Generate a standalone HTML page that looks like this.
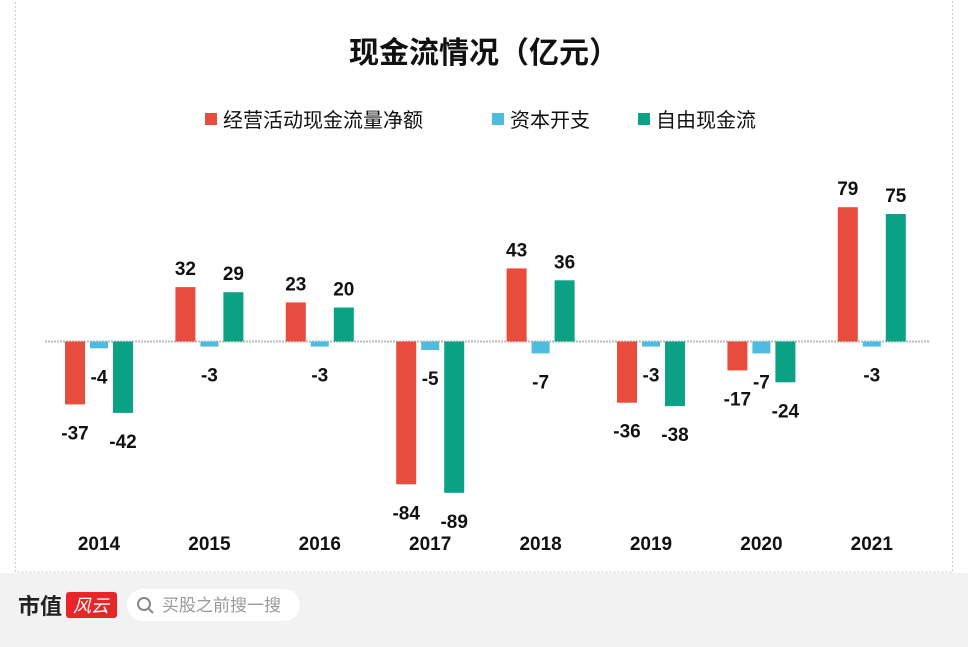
<!DOCTYPE html>
<html><head><meta charset="utf-8"><style>
body{margin:0;width:968px;height:642px;background:#f2f2f2;overflow:hidden;font-family:"Liberation Sans","Noto Sans CJK SC",sans-serif}
#wrap{position:absolute;left:0;top:0;width:968px;height:642px}
</style></head><body>
<div id="wrap">
<svg id="svg" width="968" height="642" xmlns="http://www.w3.org/2000/svg">
<rect x="0" y="0" width="968" height="573" fill="#fff"/>
<rect x="15.5" y="-2" width="937" height="574" fill="none" stroke="#ccc" stroke-dasharray="2,2"/>
<text x="484" y="63" text-anchor="middle" font-size="30" font-weight="bold" fill="#111">现金流情况（亿元）</text>
<g font-size="20" fill="#111">
<rect x="205" y="113" width="12" height="12" fill="#E84C3D"/>
<text x="223" y="127">经营活动现金流量净额</text>
<rect x="492" y="113" width="12" height="12" fill="#4DBCE0"/>
<text x="510" y="127">资本开支</text>
<rect x="638" y="113" width="12" height="12" fill="#0AA185"/>
<text x="656" y="127">自由现金流</text>
</g>
<line x1="45" y1="341.5" x2="930" y2="341.5" stroke="#bbb" stroke-width="2" stroke-dasharray="2,1"/>
<g id="bars"></g>
<g>
<text x="18" y="614" font-size="22" font-weight="bold" fill="#222">市值</text>
<rect x="66" y="592" width="51" height="26" rx="3" fill="#E8262A"/>
<text x="91" y="612" text-anchor="middle" font-size="18" font-style="italic" fill="#fff">风云</text>
<rect x="127" y="589" width="173" height="32" rx="16" fill="#fff"/>
<circle cx="144" cy="604" r="6" fill="none" stroke="#888" stroke-width="2"/>
<line x1="148" y1="608" x2="153" y2="613" stroke="#888" stroke-width="2"/>
<text x="162" y="611" font-size="17" fill="#999">买股之前搜一搜</text>
</g>
</svg>
</div>
<script>
const years=["2014","2015","2016","2017","2018","2019","2020","2021"];
const ocf=[-37,32,23,-84,43,-36,-17,79];
const capex=[-4,-3,-3,-5,-7,-3,-7,-3];
const fcf=[-42,29,20,-89,36,-38,-24,75];
const NS="http://www.w3.org/2000/svg";
const g=document.getElementById('bars');
const zeroY=341.5, scale=1.70;
const yS=v=>zeroY-v*scale;
const xC=i=>99+i*110.4;
const series=[{d:ocf,c:"#E84C3D",o:-24,n:"ocf"},{d:capex,c:"#4DBCE0",o:0,n:"capex"},{d:fcf,c:"#0AA185",o:24,n:"fcf"}];
series.forEach(s=>{
  s.d.forEach((v,i)=>{
    const r=document.createElementNS(NS,'rect');
    const y0=Math.min(yS(v),zeroY), h=Math.abs(yS(v)-zeroY);
    r.setAttribute('x',xC(i)+s.o-10);r.setAttribute('width',s.n==="capex"?18:20);
    if(s.n==="capex")r.setAttribute('x',xC(i)+s.o-9);
    r.setAttribute('y',y0);r.setAttribute('height',h);r.setAttribute('fill',s.c);
    
    
    g.appendChild(r);
    const t=document.createElementNS(NS,'text');
    t.setAttribute('x',xC(i)+s.o);
    t.setAttribute('y',v<0?yS(v)+35:yS(v)-12);
    t.setAttribute('text-anchor','middle');t.setAttribute('font-size','19');t.setAttribute('font-weight','bold');t.setAttribute('fill','#111');
    t.textContent=v;
    
    
    g.appendChild(t);
  });
});
years.forEach((y,i)=>{
  const t=document.createElementNS(NS,'text');
  t.setAttribute('x',xC(i));t.setAttribute('y',550);t.setAttribute('text-anchor','middle');
  t.setAttribute('font-size','19');t.setAttribute('font-weight','bold');t.setAttribute('fill','#111');
  t.textContent=y;
  
  
  g.appendChild(t);
});
</script>
</body></html>
